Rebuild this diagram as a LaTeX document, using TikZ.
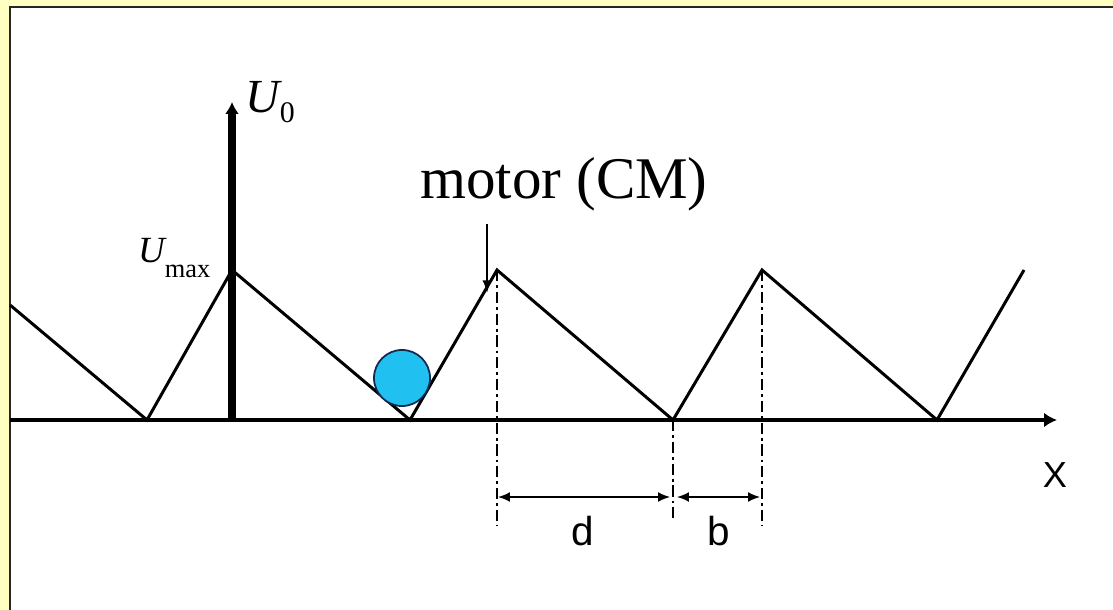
\documentclass[tikz,border=0pt]{standalone}
\usepackage{fontspec}
\setmainfont{Liberation Serif}
\newfontfamily\arialfont{Liberation Sans}
\usetikzlibrary{arrows.meta,calc}
\definecolor{slideyellow}{RGB}{255,255,194}
\definecolor{ballblue}{RGB}{32,192,240}
\definecolor{ballrim}{RGB}{20,40,80}
\tikzset{
  axisline/.style={line width=1.4pt, -{Latex[length=3.7pt,width=4.2pt]}},
  yaxisline/.style={line width=2pt, -{Latex[length=3.4pt,width=4pt]}},
  saw/.style={line width=0.85pt, line join=miter},
  guide/.style={line width=0.6pt, dash pattern=on 3.2pt off 1.1pt on 0.8pt off 1.1pt},
  dim/.style={line width=0.45pt, {Latex[length=3.4pt,width=2.8pt]}-{Latex[length=3.4pt,width=2.8pt]}},
  pointer/.style={line width=0.45pt, -{Latex[length=3.6pt,width=2.6pt]}},
  ballnode/.style={circle, draw=ballrim, line width=0.5pt, fill=ballblue, minimum size=0.56cm, inner sep=0pt},
  sanslbl/.style={font=\arialfont, inner sep=0pt},
  frameline/.style={line width=0.8pt, draw=black!85}
}

\begin{document}
\begin{tikzpicture}[x=0.01cm, y=-0.01cm]
\useasboundingbox (0,0) rectangle (1113,610);
\fill[slideyellow] (0,0) rectangle (1113,610);
\fill[white] (10,7) rectangle (1113,610);
\draw[frameline] (1113,7) -- (10,7) -- (10,610);

\coordinate (s) at (10,305);
\coordinate (v0) at (147,420);
\coordinate (p1) at (232,270);
\coordinate (v1) at (410,420);
\coordinate (p2) at (497,270);
\coordinate (v2) at (673,420);
\coordinate (p3) at (762,270);
\coordinate (v3) at (937,420);
\coordinate (e) at (1024,270);
\coordinate (o) at (232,420);
\coordinate (xs) at (10,420);
\coordinate (xe) at (1057,420);
\coordinate (ytop) at (232,102);

\draw[saw] (s) -- (v0) -- (p1) -- (v1) -- (p2) -- (v2) -- (p3) -- (v3) -- (e);
\draw[axisline] (xs) -- (xe);
\draw[yaxisline] (o) -- (ytop);

\node[ballnode] (ball) at (402,378) {};

\draw[guide] (p2) -- (497,525);
\draw[guide] (v2) -- (673,518);
\draw[guide] (p3) -- (762,525);
\draw[dim] (498,497) -- (670,497);
\draw[dim] (677,497) -- (760,497);

\node[sanslbl, font=\arialfont\fontsize{11.5}{12}\selectfont] (dlbl) at (583,531) {d};
\node[sanslbl, font=\arialfont\fontsize{11.5}{12}\selectfont] (blbl) at (719,531) {b};
\node[sanslbl, font=\arialfont\fontsize{10.3}{11}\selectfont] (xlbl) at (1055,475) {X};

\node[inner sep=0pt, anchor=base, font=\fontsize{16.8}{20}\selectfont] (motor) at (564,199) {motor (CM)};
\coordinate (tail) at (487,224);
\coordinate (hit) at (487,293);
\draw[pointer] (tail) -- (hit);

\node[inner sep=0pt, anchor=base west] (u0) at (245,113)
  {{\fontsize{13.5}{14}\selectfont\itshape U}\raisebox{-2.6pt}{\fontsize{8.5}{9}\selectfont 0}};
\node[inner sep=0pt, anchor=base east] (umax) at (211,263)
  {{\fontsize{10.5}{11}\selectfont\itshape U}\raisebox{-4pt}{\fontsize{7.5}{8}\selectfont max}};
\end{tikzpicture}
\end{document}
